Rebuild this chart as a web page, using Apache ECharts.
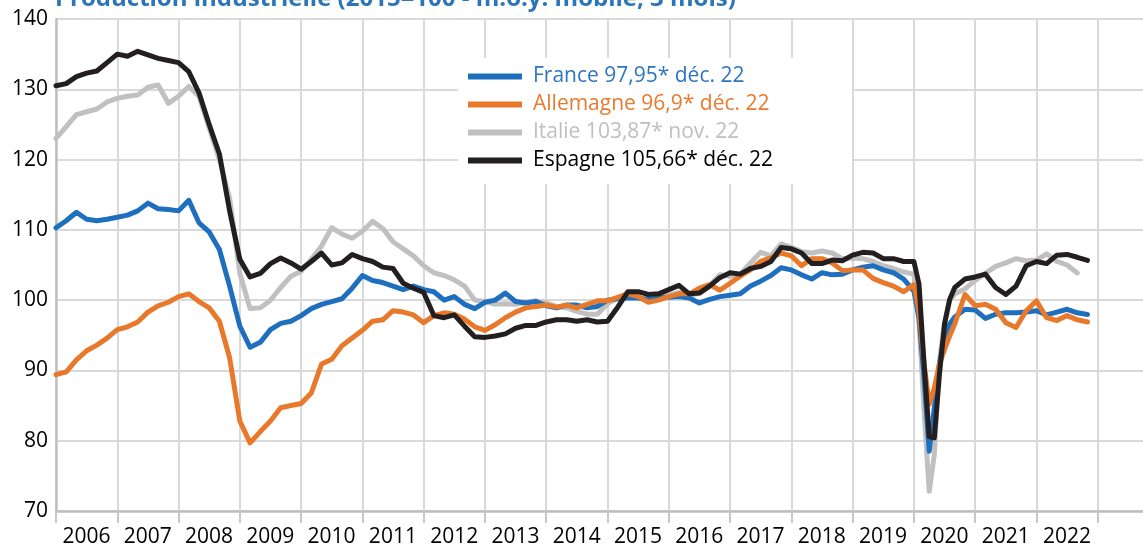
<!DOCTYPE html>
<html>
<head>
  <meta charset="utf-8">
  <title>Production industrielle</title>
  <script src="https://cdn.jsdelivr.net/npm/echarts@6/dist/echarts.min.js"></script>
  <style>
    html, body { margin: 0; padding: 0; background: #fff; }
    #chart { width: 1143px; height: 550px; }
  </style>
</head>
<body>
  <div id="chart"></div>
  <script>
    // dates (sampled every 2 months, monthly around the 2020 drop)
    var dates = [
      '2006-01','2006-03','2006-05','2006-07','2006-09','2006-11',
      '2007-01','2007-03','2007-05','2007-07','2007-09','2007-11',
      '2008-01','2008-03','2008-05','2008-07','2008-09','2008-11',
      '2009-01','2009-03','2009-05','2009-07','2009-09','2009-11',
      '2010-01','2010-03','2010-05','2010-07','2010-09','2010-11',
      '2011-01','2011-03','2011-05','2011-07','2011-09','2011-11',
      '2012-01','2012-03','2012-05','2012-07','2012-09','2012-11',
      '2013-01','2013-03','2013-05','2013-07','2013-09','2013-11',
      '2014-01','2014-03','2014-05','2014-07','2014-09','2014-11',
      '2015-01','2015-03','2015-05','2015-07','2015-09','2015-11',
      '2016-01','2016-03','2016-05','2016-07','2016-09','2016-11',
      '2017-01','2017-03','2017-05','2017-07','2017-09','2017-11',
      '2018-01','2018-03','2018-05','2018-07','2018-09','2018-11',
      '2019-01','2019-03','2019-05','2019-07','2019-09','2019-11',
      '2020-01','2020-02','2020-03','2020-04','2020-05','2020-06','2020-07','2020-08','2020-09','2020-11',
      '2021-01','2021-03','2021-05','2021-07','2021-09','2021-11',
      '2022-01','2022-03','2022-05','2022-07','2022-09','2022-11'
    ];

    var france = [
      110.3, 111.3, 112.5, 111.5, 111.3, 111.5,
      111.8, 112.1, 112.7, 113.8, 113.0, 112.9,
      112.7, 114.2, 111.0, 109.7, 107.2, 102.0,
      96.3, 93.3, 94.0, 95.8, 96.7, 97.0,
      97.8, 98.8, 99.4, 99.8, 100.2, 101.7,
      103.5, 102.8, 102.5, 102.0, 101.5, 102.0,
      101.5, 101.2, 100.0, 100.5, 99.4, 98.8,
      99.7, 100.0, 101.0, 99.8, 99.6, 99.8,
      99.2, 98.9, 99.3, 99.3, 98.9, 99.1,
      100.0, 100.2, 100.3, 100.3, 100.1, 100.3,
      100.4, 100.5, 100.3, 99.6, 100.1, 100.5,
      100.7, 100.9, 102.0, 102.7, 103.5, 104.6,
      104.3, 103.6, 103.0, 103.9, 103.6, 103.7,
      104.3, 104.7, 104.9, 104.3, 103.9, 103.0,
      101.3, 97.5, 89.0, 78.5, 84.7, 90.9, 94.9, 96.6, 97.6, 98.7,
      98.6, 97.4, 98.0, 98.2, 98.2, 98.3,
      98.5, 97.9, 98.3, 98.7, 98.2, 97.95
    ];

    var allemagne = [
      89.4, 89.8, 91.5, 92.8, 93.6, 94.6,
      95.8, 96.2, 96.9, 98.3, 99.2, 99.7,
      100.5, 100.9, 99.8, 98.9, 97.0, 91.8,
      82.8, 79.7, 81.3, 82.8, 84.7, 85.0,
      85.3, 86.8, 90.9, 91.6, 93.5, 94.6,
      95.7, 97.0, 97.2, 98.5, 98.3, 97.9,
      96.8, 97.8, 98.2, 98.0, 97.3, 96.2,
      95.7, 96.5, 97.5, 98.3, 98.9, 99.1,
      99.3, 99.0, 99.3, 98.9, 99.4, 99.9,
      99.9, 100.4, 100.9, 100.5, 99.7, 100.0,
      100.5, 100.9, 100.9, 101.7, 102.2, 101.4,
      102.4, 103.4, 104.3, 105.5, 106.0, 106.7,
      106.3, 104.9, 105.9, 105.9, 105.3, 104.2,
      104.3, 104.3, 103.1, 102.5, 102.0, 101.2,
      102.2, 98.5, 90.9, 85.2, 87.5, 90.9, 93.0, 94.9, 96.6, 100.8,
      99.2, 99.4, 98.7, 96.8, 96.1, 98.5,
      99.9, 97.5, 97.1, 97.8, 97.2, 96.9
    ];

    var italie = [
      123.0, 124.7, 126.4, 126.8, 127.2, 128.2,
      128.7, 129.0, 129.2, 130.3, 130.6, 128.0,
      129.0, 130.4, 129.0, 124.5, 120.0, 114.5,
      103.8, 98.8, 98.9, 100.0, 101.8, 103.4,
      104.1, 105.8, 107.7, 110.3, 109.4, 108.8,
      109.8, 111.2, 110.2, 108.3, 107.3, 106.3,
      104.9, 103.9, 103.5, 102.9, 102.0, 100.0,
      99.8, 99.4, 99.5, 99.4, 99.7, 99.9,
      99.6, 99.1, 98.9, 98.4, 98.0, 98.0,
      99.5, 100.3, 101.0, 100.3, 100.0, 100.4,
      100.7, 101.1, 100.6, 101.0, 102.1, 103.6,
      103.4, 103.7, 105.3, 106.8, 106.3, 108.0,
      107.5, 106.9, 106.7, 107.0, 106.7, 105.9,
      106.0, 105.9, 105.5, 104.9, 104.5, 104.0,
      103.7, 97.0, 84.2, 72.8, 78.0, 91.3, 96.8, 99.9, 100.9, 101.6,
      102.8, 103.8, 104.8, 105.3, 105.9, 105.6,
      105.7, 106.6, 105.5, 105.0, 103.87, null
    ];

    var espagne = [
      130.5, 130.8, 131.8, 132.3, 132.6, 133.8,
      135.0, 134.7, 135.4, 134.9, 134.4, 134.1,
      133.8, 132.5, 129.5, 125.0, 120.8, 112.7,
      105.8, 103.3, 103.8, 105.2, 106.0, 105.3,
      104.4, 105.5, 106.7, 105.0, 105.3, 106.5,
      105.9, 105.5, 104.7, 104.5, 102.4, 101.7,
      101.1, 97.8, 97.5, 97.9, 96.3, 94.8,
      94.7, 94.9, 95.2, 96.0, 96.4, 96.4,
      96.9, 97.2, 97.2, 97.0, 97.2, 96.9,
      97.0, 99.0, 101.2, 101.2, 100.8, 100.9,
      101.5, 102.1, 100.9, 101.0, 102.0, 103.2,
      103.9, 103.7, 104.5, 104.8, 105.5, 107.5,
      107.3, 106.7, 105.2, 105.2, 105.7, 105.6,
      106.4, 106.8, 106.7, 105.9, 105.9, 105.5,
      105.5, 102.3, 90.9, 80.6, 80.4, 89.4, 96.6, 100.1, 101.8, 103.0,
      103.3, 103.7, 101.8, 100.8, 102.0, 104.9,
      105.5, 105.2, 106.4, 106.5, 106.1, 105.66
    ];

    var years = ['2006','2007','2008','2009','2010','2011','2012','2013','2014',
                 '2015','2016','2017','2018','2019','2020','2021','2022'];

    var noms = ['France 97,95* déc. 22', 'Allemagne 96,9* déc. 22',
                'Italie 103,87* nov. 22', 'Espagne 105,66* déc. 22'];

    var font = 'Open Sans';

    // months since jan 2006
    function toMonth(d) {
      var p = d.split('-');
      return (+p[0] - 2006) * 12 + (+p[1] - 1);
    }

    function pairs(vals) {
      var out = [];
      for (var i = 0; i < dates.length; i++) {
        if (vals[i] != null) out.push([toMonth(dates[i]), vals[i]]);
      }
      return out;
    }

    function makeSeries(name, vals, color) {
      return {
        name: name,
        type: 'line',
        data: pairs(vals),
        color: color,
        showSymbol: false,
        lineStyle: { width: 5, color: color, join: 'round', cap: 'round' }
      };
    }

    var chart = echarts.init(document.getElementById('chart'));

    var option = {
      animation: false,
      backgroundColor: '#fff',
      title: {
        text: 'Production industrielle (2015=100 - m.o.y. mobile, 3 mois)',
        left: 55,
        top: -13,
        padding: 0,
        textStyle: { fontFamily: font, fontSize: 24, fontWeight: 'bold', color: '#2e75b6', lineHeight: 24 }
      },
      // plot runs a little past the right edge, like the cropped original
      grid: { left: 56, right: -16, top: 19, bottom: 39, containLabel: false, outerBoundsMode: 'none' },
      graphic: [{
        type: 'rect',
        z: 1,
        shape: { x: 458, y: 58, width: 394, height: 126 },
        style: { fill: '#fff' }
      }],
      legend: {
        orient: 'vertical',
        left: 468,
        top: 66,
        padding: 0,
        itemGap: 7,
        itemWidth: 54,
        itemHeight: 6,
        icon: 'rect',
        textStyle: { fontFamily: font, fontSize: 21, lineHeight: 21, padding: [0, 0, 0, 6] },
        data: [
          { name: noms[0], textStyle: { color: '#2e75c0' } },
          { name: noms[1], textStyle: { color: '#e97a2e' } },
          { name: noms[2], textStyle: { color: '#bfbfbf' } },
          { name: noms[3], textStyle: { color: '#000' } }
        ]
      },
      xAxis: {
        type: 'value',
        min: 0,
        max: 216,
        interval: 12,
        axisLine: { show: true, lineStyle: { color: '#bfbfbf', width: 2.5 } },
        axisTick: { show: true, length: 12, lineStyle: { color: '#c8c8c8', width: 2 } },
        splitLine: { show: true, showMaxLine: false, lineStyle: { color: '#d9d9d9', width: 2 } },
        axisLabel: {
          margin: 16,
          formatter: function (v) {
            var k = v / 12;
            if (k !== Math.round(k) || k >= years.length) return '';
            return '{y|' + years[k] + '}';
          },
          rich: {
            y: { fontFamily: font, fontSize: 21, color: '#000', padding: [0, 0, 0, 61] }
          }
        }
      },
      yAxis: {
        type: 'value',
        min: 70,
        max: 140,
        interval: 10,
        axisLine: { show: true, lineStyle: { color: '#bfbfbf', width: 2.5 } },
        axisTick: { show: false },
        splitLine: { show: true, lineStyle: { color: '#d9d9d9', width: 2 } },
        axisLabel: { fontFamily: font, fontSize: 21, color: '#000', margin: 8 }
      },
      series: [
        makeSeries(noms[2], italie, '#c0c0c0'),
        makeSeries(noms[0], france, '#1f6fbf'),
        makeSeries(noms[1], allemagne, '#e8792b'),
        makeSeries(noms[3], espagne, '#231f20')
      ]
    };

    chart.setOption(option);
  </script>
</body>
</html>
